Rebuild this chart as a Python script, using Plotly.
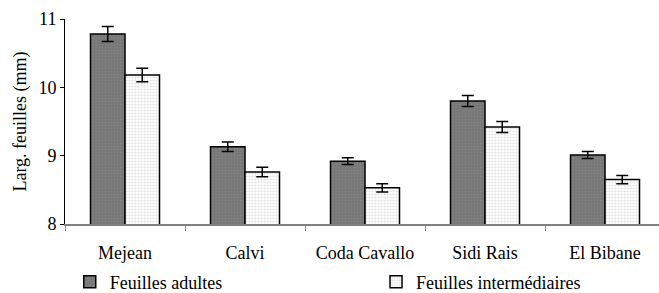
import plotly.graph_objects as go

sites = ["Mejean", "Calvi", "Coda Cavallo", "Sidi Rais", "El Bibane"]
adultes = [10.78, 9.13, 8.92, 9.80, 9.01]
adultes_err = [0.11, 0.07, 0.05, 0.08, 0.05]
inter = [10.18, 8.76, 8.53, 9.42, 8.65]
inter_err = [0.10, 0.07, 0.06, 0.08, 0.06]

font_family = "Liberation Serif"

fig = go.Figure()
fig.add_trace(go.Bar(
    x=sites, y=adultes, name="Feuilles adultes", legend="legend",
    marker=dict(color="#7f7f7f", line=dict(color="#000000", width=1.5),
                pattern=dict(shape=".", fgcolor="#8c8c8c", bgcolor="#777777", size=3, solidity=0.3)),
    error_y=dict(type="data", array=adultes_err, color="#000000", thickness=1.5, width=6),
))
fig.add_trace(go.Bar(
    x=sites, y=inter, name="Feuilles intermédiaires", legend="legend2",
    marker=dict(color="#f4f4f4", line=dict(color="#000000", width=1.5),
                pattern=dict(shape=".", fgcolor="#bdbdbd", bgcolor="#ffffff", size=3, solidity=0.35)),
    error_y=dict(type="data", array=inter_err, color="#000000", thickness=1.5, width=6),
))

leg_common = dict(orientation="h", xanchor="left", yanchor="middle", y=-0.283,
                  font=dict(family=font_family, size=18, color="#000000"),
                  itemwidth=30, bgcolor="rgba(0,0,0,0)", borderwidth=0)

fig.update_layout(
    width=659, height=293,
    margin=dict(l=65, r=0, t=19, b=69, autoexpand=False),
    paper_bgcolor="white", plot_bgcolor="white",
    barmode="group", bargap=0.425, bargroupgap=0,
    font=dict(family=font_family, size=18, color="#000000"),
    showlegend=True,
    legend=dict(x=0.008, **leg_common),
    legend2=dict(x=0.5236, **leg_common),
    xaxis=dict(range=[-0.5, 4.45], tickson="boundaries", ticks="outside", ticklen=5,
               tickcolor="#808080", showline=True, linecolor="#808080", linewidth=1.5,
               showgrid=False, tickfont=dict(family=font_family, size=18),
               ticklabelstandoff=12),
    yaxis=dict(range=[8, 11], tickvals=[8, 9, 10, 11], ticks="outside", ticklen=4,
               tickcolor="#000000", showline=True, linecolor="#000000", linewidth=1,
               showgrid=False, zeroline=False,
               tickfont=dict(family=font_family, size=18),
               title=dict(text="Larg. feuilles (mm)", font=dict(family=font_family, size=18), standoff=7)),
)

fig.write_html("out.html", post_script="document.body.style.margin='0';",
               config={"displayModeBar": False})
